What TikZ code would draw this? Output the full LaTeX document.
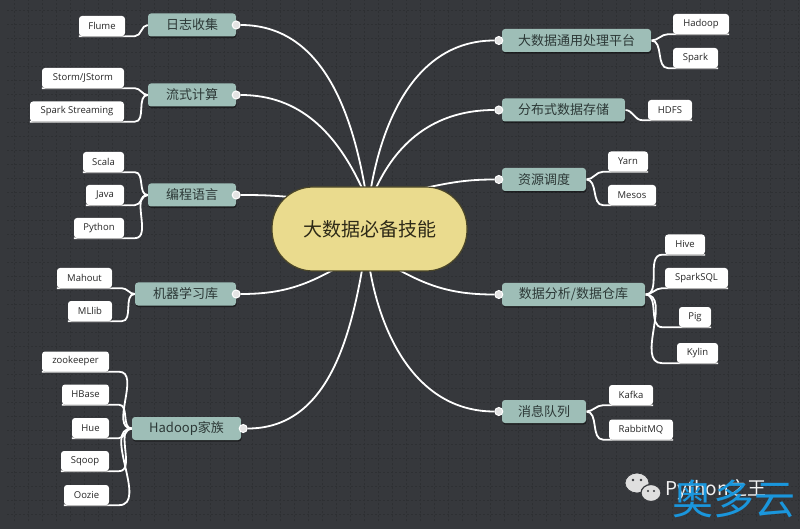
\documentclass[tikz,border=0pt]{standalone}
\usepackage{fontspec}
\setmainfont{Noto Sans CJK SC}
\newfontfamily\lf{Open Sans}
\usetikzlibrary{shadows,calc,shapes.geometric}
\definecolor{bgc}{HTML}{36383C}
\definecolor{gridc}{HTML}{2E3033}
\definecolor{teal1}{HTML}{9EBEB7}
\definecolor{btext}{HTML}{2C3836}
\definecolor{ltext}{HTML}{262626}
\definecolor{ctrfill}{HTML}{EADB8E}
\definecolor{ctrdraw}{HTML}{4A4528}
\definecolor{ctrtext}{HTML}{2E2A18}
\definecolor{dotfill}{HTML}{E4E4E4}
\definecolor{wmblue}{HTML}{1A96DC}
\pgfdeclarelayer{bglayer}
\pgfdeclarelayer{lines}
\pgfsetlayers{bglayer,lines,main}
\tikzset{
  branch/.style={fill=teal1, text=btext, rounded corners=3pt, minimum height=23pt,
    inner sep=0pt, font=\fontsize{13}{13}\selectfont,
    drop shadow={shadow xshift=0.6pt, shadow yshift=-1.6pt, fill=black, opacity=0.45}},
  leaf/.style={fill=white, text=ltext, rounded corners=3pt, minimum height=20pt,
    inner sep=0pt, font=\lf\fontsize{9.5}{10}\selectfont,
    drop shadow={shadow xshift=0.6pt, shadow yshift=-0.8pt, fill=black, opacity=0.3}},
  conn/.style={draw=white, line width=1.8pt},
  dotn/.style={circle, fill=dotfill, draw=white, line width=1pt, minimum size=8pt, inner sep=0pt},
  ctrbox/.style={fill=ctrfill, draw=ctrdraw, line width=1.2pt, rounded corners=41pt,
    minimum width=195pt, minimum height=84pt, text=ctrtext, font=\fontsize{19}{19}\selectfont}
}
\begin{document}
\begin{tikzpicture}[x=1pt,y=1pt]
\useasboundingbox (0,0) rectangle (800,528);
\begin{pgfonlayer}{bglayer}
\fill[bgc] (-2,-2) rectangle (802,530);
\draw[gridc, line width=0.6pt, dash pattern=on 2pt off 2pt, step=14pt] (7,7) grid (800,528);
\end{pgfonlayer}

% centre
\node[ctrbox] (ctr) at (369.5,299) {大数据必备技能};

% left branches
\node[branch, minimum width=88pt]  (b1) at (192,503)   {日志收集};
\node[branch, minimum width=88pt]  (b2) at (192,433)   {流式计算};
\node[branch, minimum width=88pt]  (b3) at (192,333)   {编程语言};
\node[branch, minimum width=101pt] (b4) at (185.5,234) {机器学习库};
\node[branch, minimum width=109pt] (b5) at (186.5,99.5) {Hadoop家族};
% right branches
\node[branch, minimum width=149pt] (r1) at (576.5,487.5) {大数据通用处理平台};
\node[branch, minimum width=123pt] (r2) at (563.5,418)   {分布式数据存储};
\node[branch, minimum width=84pt]  (r3) at (544,348.5)   {资源调度};
\node[branch, minimum width=143pt] (r4) at (573.5,233.5) {数据分析/数据仓库};
\node[branch, minimum width=84pt]  (r5) at (544,116.5)   {消息队列};

% dots
\node[dotn] (d1) at (b1.east) {};
\node[dotn] (d2) at (b2.east) {};
\node[dotn] (d3) at (b3.east) {};
\node[dotn] (d4) at (b4.east) {};
\node[dotn] (d5) at ([xshift=2pt]b5.east) {};
\node[dotn] (d6) at ([xshift=-3pt]r1.west) {};
\node[dotn] (d7) at ([xshift=-3pt]r2.west) {};
\node[dotn] (d8) at ([xshift=-3pt]r3.west) {};
\node[dotn] (d9) at ([xshift=-3pt]r4.west) {};
\node[dotn] (d10) at ([xshift=-3pt]r5.west) {};

% left leaves
\node[leaf, minimum width=46pt] (l1) at (102,502)    {Flume};
\node[leaf, minimum width=82pt] (l2) at (83,450)     {Storm/JStorm};
\node[leaf, minimum width=94pt] (l3) at (77,416.5)   {Spark Streaming};
\node[leaf, minimum width=41pt] (l4) at (103.5,366)  {Scala};
\node[leaf, minimum width=38pt] (l5) at (105,333)    {Java};
\node[leaf, minimum width=50pt] (l6) at (99,300)     {Python};
\node[leaf, minimum width=55pt] (l7) at (84.5,250)   {Mahout};
\node[leaf, minimum width=44pt] (l8) at (90,217)     {MLlib};
\node[leaf, minimum width=67pt] (l9) at (75.5,166.5) {zookeeper};
\node[leaf, minimum width=47pt] (l10) at (85.5,133.5) {HBase};
\node[leaf, minimum width=37pt] (l11) at (90.5,100)  {Hue};
\node[leaf, minimum width=48pt] (l12) at (85,67)     {Sqoop};
\node[leaf, minimum width=45pt] (l13) at (86.5,33)   {Oozie};
% right leaves
\node[leaf, minimum width=56pt] (h1) at (701,504)    {Hadoop};
\node[leaf, minimum width=45pt] (h2) at (695.5,470)  {Spark};
\node[leaf, minimum width=44pt] (h3) at (670,418)    {HDFS};
\node[leaf, minimum width=40pt] (h4) at (628,366.5)  {Yarn};
\node[leaf, minimum width=48pt] (h5) at (632,333)    {Mesos};
\node[leaf, minimum width=40pt] (h6) at (685,283.5)  {Hive};
\node[leaf, minimum width=63pt] (h7) at (696.5,250)  {SparkSQL};
\node[leaf, minimum width=32pt] (h8) at (695,211)    {Pig};
\node[leaf, minimum width=41pt] (h9) at (697.5,175)  {Kylin};
\node[leaf, minimum width=44pt] (h10) at (631,133)   {Kafka};
\node[leaf, minimum width=64pt] (h11) at (641,98.5)  {RabbitMQ};

\begin{pgfonlayer}{lines}
% centre to branches
\draw[conn] (d1) to[out=0,in=100] ($(ctr.center)+(-4.5,41)$);
\draw[conn] (d2) to[out=0,in=115] ($(ctr.center)+(-7.5,41)$);
\draw[conn] (d3) to[out=0,in=175] ($(ctr.center)+(-79.5,32)$);
\draw[conn] (d4) to[out=0,in=210] ($(ctr.center)+(-29.5,-37)$);
\draw[conn] (d5) to[out=0,in=260] ($(ctr.center)+(-7.5,-41)$);
\draw[conn] (d6) to[out=180,in=80] ($(ctr.center)+(1.5,41)$);
\draw[conn] (d7) to[out=180,in=65] ($(ctr.center)+(6.5,41)$);
\draw[conn] (d8) to[out=180,in=12] ($(ctr.center)+(50.5,40)$);
\draw[conn] (d9) to[out=180,in=-30] ($(ctr.center)+(22.5,-37)$);
\draw[conn] (d10) to[out=180,in=-80] ($(ctr.center)+(0.5,-41)$);
% left leaves
\foreach \b/\l in {b1/l1, b2/l2, b2/l3, b3/l4, b3/l5, b3/l6, b4/l7, b4/l8,
                   b5/l9, b5/l10, b5/l11, b5/l12, b5/l13}
  \draw[conn] (\b.west) to[out=180,in=0] ([xshift=-13pt]\b.west |- \l.south) -- (\l.south west);
% right leaves
\foreach \b/\l in {r1/h1, r1/h2, r2/h3, r3/h4, r3/h5, r4/h6, r4/h7, r4/h8, r4/h9,
                   r5/h10, r5/h11}
  \draw[conn] (\b.east) to[out=0,in=180] ([xshift=17pt]\b.east |- \l.south) -- (\l.south east);
\end{pgfonlayer}

% watermark
\node[ellipse, minimum width=24pt, minimum height=20pt, fill=gray!25, draw=bgc, line width=0.8pt, inner sep=0pt] (wb1) at (637,45) {};
\node[ellipse, minimum width=20pt, minimum height=17pt, fill=gray!25, draw=bgc, line width=1.2pt, inner sep=0pt] (wb2) at (651,35) {};
\fill[bgc] (633,48) circle (1.4pt) (641,48) circle (1.4pt) (648,37) circle (1.1pt) (654,37) circle (1.1pt);
\node[anchor=west, text=white!90!gray, font=\fontsize{19}{19}\selectfont, inner sep=0pt] (wmt) at (665,38) {Python之王};
\node[text=wmblue, font=\fontsize{41}{41}\selectfont, inner sep=0pt] (wmb) at (733.5,29) {奥多云};
\end{tikzpicture}
\end{document}
